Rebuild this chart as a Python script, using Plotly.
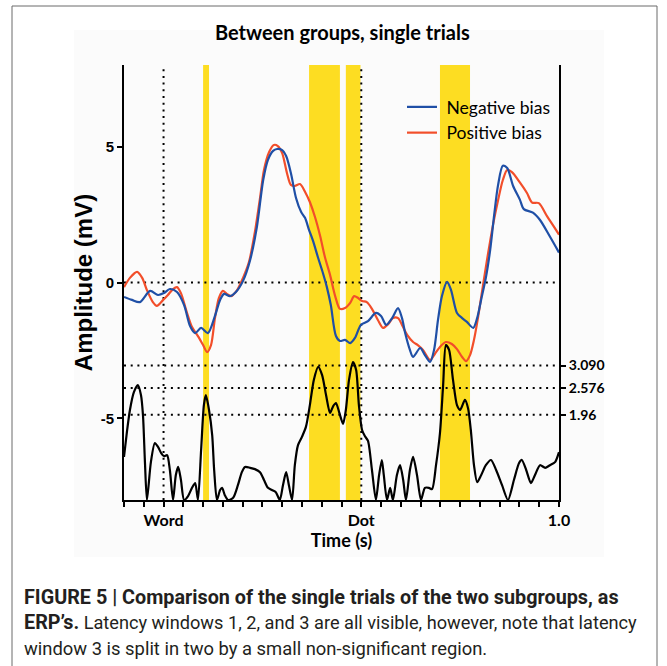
import plotly.graph_objects as go

# ---------------- data ----------------
t_neg = [-0.100, -0.080, -0.060, -0.034, -0.014, 0.001, 0.016, 0.034, 0.052, 0.067,
         0.080, 0.095, 0.112, 0.130, 0.143, 0.153, 0.168, 0.183, 0.201, 0.219,
         0.236, 0.252, 0.264, 0.277, 0.287, 0.300, 0.310, 0.322, 0.335, 0.348,
         0.358, 0.368, 0.378, 0.391, 0.403, 0.413, 0.423, 0.436, 0.446, 0.459,
         0.472, 0.484, 0.499, 0.517, 0.537, 0.550, 0.563, 0.578, 0.593, 0.603,
         0.611, 0.623, 0.631, 0.649, 0.661, 0.674, 0.684, 0.694, 0.704, 0.717,
         0.727, 0.742, 0.755, 0.767, 0.783, 0.793, 0.803, 0.815, 0.826, 0.836,
         0.846, 0.858, 0.869, 0.884, 0.901, 0.911, 0.934, 0.952, 0.977, 1.000]
neg = [-0.53, -0.64, -0.72, -0.31, -0.46, -0.39, -0.24, -0.35, -0.83, -1.60,
       -1.86, -1.67, -1.86, -1.23, -0.64, -0.42, -0.50, -0.35, 0.06, 0.83,
       2.04, 3.77, 4.51, 4.84, 4.91, 4.87, 4.65, 4.03, 3.11, 2.59,
       2.37, 1.93, 1.53, 0.90, 0.35, -0.17, -0.83, -1.97, -2.15, -2.11,
       -2.23, -2.04, -1.56, -1.42, -1.12, -1.23, -1.56, -1.31, -0.94, -1.31,
       -1.86, -2.48, -2.74, -2.41, -2.67, -2.92, -2.48, -1.38, -0.50, 0.02,
       -0.28, -1.12, -1.31, -1.45, -1.67, -1.31, -0.64, 0.17, 1.20, 2.48,
       3.59, 4.29, 4.21, 3.55, 3.05, 2.70, 2.57, 2.30, 1.69, 1.10]

t_pos = [-0.100, -0.085, -0.067, -0.054, -0.042, -0.027, -0.017, -0.001, 0.011, 0.024,
         0.034, 0.044, 0.057, 0.072, 0.087, 0.100, 0.110, 0.120, 0.130, 0.140,
         0.150, 0.160, 0.171, 0.186, 0.201, 0.216, 0.231, 0.244, 0.254, 0.267,
         0.279, 0.289, 0.300, 0.312, 0.322, 0.332, 0.345, 0.358, 0.370, 0.383,
         0.396, 0.408, 0.421, 0.434, 0.446, 0.459, 0.472, 0.482, 0.492, 0.502,
         0.514, 0.527, 0.542, 0.555, 0.568, 0.580, 0.593, 0.603, 0.616, 0.631,
         0.643, 0.656, 0.674, 0.686, 0.699, 0.714, 0.729, 0.742, 0.755, 0.765,
         0.775, 0.785, 0.795, 0.808, 0.820, 0.833, 0.846, 0.858, 0.869, 0.881,
         0.901, 0.919, 0.932, 0.949, 0.970, 0.985, 1.000]
pos = [-0.17, 0.17, 0.39, 0.17, -0.28, -0.72, -0.86, -0.64, -0.46, -0.24,
       -0.17, -0.39, -1.01, -1.64, -1.97, -2.30, -2.56, -2.30, -1.31, -0.57,
       -0.31, -0.42, -0.50, -0.28, 0.17, 0.75, 1.86, 3.11, 4.14, 4.80,
       5.06, 5.02, 4.76, 4.03, 3.59, 3.55, 3.62, 3.33, 2.96, 2.41,
       1.71, 0.94, 0.28, -0.50, -0.97, -0.94, -0.75, -0.50, -0.57, -0.68,
       -0.72, -0.97, -1.38, -1.67, -1.53, -1.31, -1.31, -1.56, -1.93, -2.19,
       -2.30, -2.48, -2.85, -2.63, -2.37, -2.19, -2.26, -2.45, -2.74, -2.89,
       -2.67, -2.11, -1.31, -0.09, 1.01, 2.11, 3.03, 3.77, 4.14, 4.06,
       3.68, 3.29, 2.94, 2.92, 2.43, 2.10, 1.76]

t_z = [-0.100, -0.092, -0.085, -0.075, -0.065, -0.057, -0.052, -0.047, -0.042, -0.032,
       -0.022, -0.014, -0.006, 0.001, 0.009, 0.016, 0.024, 0.031, 0.037, 0.044,
       0.052, 0.062, 0.072, 0.080, 0.087, 0.095, 0.102, 0.107, 0.115, 0.123,
       0.128, 0.135, 0.143, 0.148, 0.155, 0.163, 0.176, 0.188, 0.198, 0.206,
       0.219, 0.231, 0.244, 0.254, 0.264, 0.274, 0.284, 0.294, 0.302, 0.310,
       0.317, 0.325, 0.332, 0.340, 0.350, 0.360, 0.370, 0.380, 0.391, 0.401,
       0.411, 0.421, 0.429, 0.436, 0.444, 0.454, 0.461, 0.469, 0.479, 0.487,
       0.494, 0.502, 0.509, 0.517, 0.527, 0.537, 0.545, 0.552, 0.557, 0.565,
       0.573, 0.580, 0.590, 0.598, 0.606, 0.613, 0.623, 0.631, 0.641, 0.651,
       0.661, 0.671, 0.679, 0.689, 0.699, 0.707, 0.714, 0.722, 0.732, 0.742,
       0.750, 0.762, 0.770, 0.777, 0.785, 0.793, 0.803, 0.815, 0.828, 0.841,
       0.856, 0.871, 0.886, 0.899, 0.906, 0.917, 0.929, 0.939, 0.952, 0.965,
       0.977, 0.990, 1.000]
z = [0.99, 1.61, 2.07, 2.48, 2.64, 2.41, 1.95, 0.86, 0.00, 0.87,
     1.31, 1.22, 1.08, 1.01, 1.03, 0.69, 0.00, 0.57, 0.76, 0.46,
     0.00, 0.09, 0.28, 0.39, 0.00, 1.15, 2.18, 2.41, 2.07, 1.49,
     0.69, 0.00, 0.23, 0.28, 0.11, 0.00, 0.05, 0.34, 0.64, 0.76,
     0.74, 0.71, 0.64, 0.46, 0.28, 0.23, 0.18, 0.00, 0.34, 0.64,
     0.34, 0.00, 0.80, 1.26, 1.45, 1.68, 2.18, 2.76, 3.06, 2.87,
     2.41, 2.00, 2.16, 2.23, 2.02, 1.75, 2.07, 2.76, 3.17, 2.99,
     2.18, 1.61, 1.47, 1.36, 0.69, 0.00, 0.57, 0.92, 0.57, 0.00,
     0.28, 0.00, 0.57, 0.80, 0.46, 0.00, 0.69, 0.99, 0.57, 0.00,
     0.28, 0.28, 0.25, 0.80, 1.54, 2.64, 3.56, 3.45, 2.76, 2.18,
     2.07, 2.30, 2.11, 1.61, 0.80, 0.41, 0.57, 0.80, 0.92, 0.69,
     0.34, 0.00, 0.46, 0.85, 0.92, 0.69, 0.39, 0.57, 0.80, 0.74,
     0.80, 0.87, 1.10]

window_start = [0.100, 0.368, 0.461, 0.699]
window_end = [0.115, 0.446, 0.498, 0.775]
thresholds = [1.96, 2.576, 3.09]
threshold_labels = ["1.96", "2.576", "3.090"]
event_times = [0.0, 0.5]
x_tickvals = [0.0, 0.5, 1.0]
x_ticktext = ["Word", "Dot", "1.0"]
y_tickvals = [-5, 0, 5]
y_ticktext = ["-5", "0", "5"]

# ---------------- layout helpers (pixel -> paper) ----------------
W, H = 667, 666
L, R, T, B = 124, 108, 65, 166
PW, PH = W - L - R, H - T - B


def pxx(xp):
    return (xp - L) / PW


def pxy(yp):
    return (H - B - yp) / PH


BLUE = "#1f4fa6"
RED = "#f24e2a"
YELLOW = "#fddd22"
DOT = "2px,4.7px"
CAPFONT = "Roboto"
NB = "\u00a0"

fig = go.Figure()

fig.add_trace(go.Scatter(x=t_z, y=z, yaxis="y2", mode="lines", showlegend=False,
                         line=dict(color="black", width=2.2, shape="spline", smoothing=0.7),
                         hoverinfo="skip"))
fig.add_trace(go.Scatter(x=t_pos, y=pos, mode="lines", name=NB + "Positive bias", legendrank=2,
                         line=dict(color=RED, width=2.2, shape="spline", smoothing=0.8)))
fig.add_trace(go.Scatter(x=t_neg, y=neg, mode="lines", name=NB + "Negative bias", legendrank=1,
                         line=dict(color=BLUE, width=2.2, shape="spline", smoothing=0.8)))

shapes = []
# faint background of the chart image
shapes.append(dict(type="rect", xref="paper", yref="paper", x0=pxx(74), x1=pxx(604),
                   y0=pxy(557), y1=pxy(30), fillcolor="#fbfbfb", line=dict(width=0),
                   layer="below"))
# significance windows
for s, e in zip(window_start, window_end):
    shapes.append(dict(type="rect", xref="x", yref="paper", x0=s, x1=e, y0=0, y1=1,
                       fillcolor=YELLOW, line=dict(width=0), layer="below"))
# zero line
shapes.append(dict(type="line", xref="paper", yref="y", x0=0, x1=1, y0=0, y1=0,
                   line=dict(color="black", width=2, dash=DOT), layer="below"))
# thresholds
for th in thresholds:
    shapes.append(dict(type="line", xref="paper", yref="y2", x0=0, x1=1, y0=th, y1=th,
                       line=dict(color="black", width=2, dash=DOT), layer="below"))
# events
for ev in event_times:
    shapes.append(dict(type="line", xref="x", yref="paper", x0=ev, x1=ev, y0=0, y1=1,
                       line=dict(color="black", width=2, dash=DOT), layer="below"))
# outer figure frame
shapes.append(dict(type="rect", xref="paper", yref="paper", x0=pxx(12), x1=pxx(657),
                   y0=pxy(700), y1=pxy(6), line=dict(color="#6a6a6a", width=1),
                   fillcolor="rgba(0,0,0,0)", layer="above"))

annotations = [
    dict(text="Between groups, single trials", xref="paper", yref="paper",
         x=pxx(342), y=pxy(32), xanchor="center", yanchor="middle", showarrow=False,
         font=dict(family="Lato", size=20, color="black", weight="bold")),
    dict(text="FIGURE 5 | Comparison of the single trials of the two subgroups, as",
         xref="paper", yref="paper", x=pxx(22), y=pxy(597), xanchor="left", yanchor="middle",
         showarrow=False, font=dict(family=CAPFONT, size=19.8, color="#231f20", weight="bold")),
    dict(text="<span style='font-size:19.8px'><b>ERP’s.</b></span> Latency windows 1, 2, and 3 "
              "are all visible, however, note that latency",
         xref="paper", yref="paper", x=pxx(22), y=pxy(622), xanchor="left", yanchor="middle",
         showarrow=False, font=dict(family=CAPFONT, size=18.2, color="#231f20")),
    dict(text="window 3 is split in two by a small non-significant region.",
         xref="paper", yref="paper", x=pxx(22), y=pxy(648), xanchor="left", yanchor="middle",
         showarrow=False, font=dict(family=CAPFONT, size=18.4, color="#231f20")),
]

fig.update_layout(
    width=W, height=H,
    margin=dict(l=L, r=R, t=T, b=B, pad=0),
    paper_bgcolor="white", plot_bgcolor="#fbfbfb",
    shapes=shapes, annotations=annotations,
    showlegend=True,
    legend=dict(x=pxx(402), y=pxy(89), xanchor="left", yanchor="top",
                bgcolor="rgba(0,0,0,0)", borderwidth=0, itemwidth=30,
                font=dict(family="Lato", size=17.5, color="black")),
    xaxis=dict(range=[-0.1, 1.0], showgrid=False, zeroline=False,
               showline=True, linecolor="black", linewidth=2,
               ticks="outside", ticklen=5, tickwidth=1.5, tickcolor="black",
               tickvals=x_tickvals, ticktext=x_ticktext,
               tickfont=dict(family="Lato", size=16, color="black", weight="bold"),
               minor=dict(dtick=0.05, tick0=0, ticks="outside", ticklen=5, tickwidth=1.5,
                          tickcolor="black", showgrid=False),
               title=dict(text="Time (s)", standoff=6,
                          font=dict(family="Lato", size=18, color="black", weight="bold"))),
    yaxis=dict(range=[-8, 8], showgrid=False, zeroline=False,
               showline=True, linecolor="black", linewidth=2,
               ticks="outside", ticklen=5, tickwidth=1.5, tickcolor="black",
               tickvals=y_tickvals, ticktext=y_ticktext,
               tickfont=dict(family="Liberation Sans", size=15, color="black", weight="bold"),
               title=dict(text="Amplitude (mV)", standoff=1,
                          font=dict(family="Liberation Sans", size=24, color="black",
                                    weight="bold"))),
    yaxis2=dict(range=[0, 10], overlaying="y", side="right", showgrid=False, zeroline=False,
                showline=True, linecolor="black", linewidth=2,
                ticks="outside", ticklen=5, tickwidth=1.5, tickcolor="black",
                tickvals=thresholds, ticktext=threshold_labels,
                tickfont=dict(family="Lato", size=14, color="black", weight="bold")),
)

fig.write_html("out.html")
